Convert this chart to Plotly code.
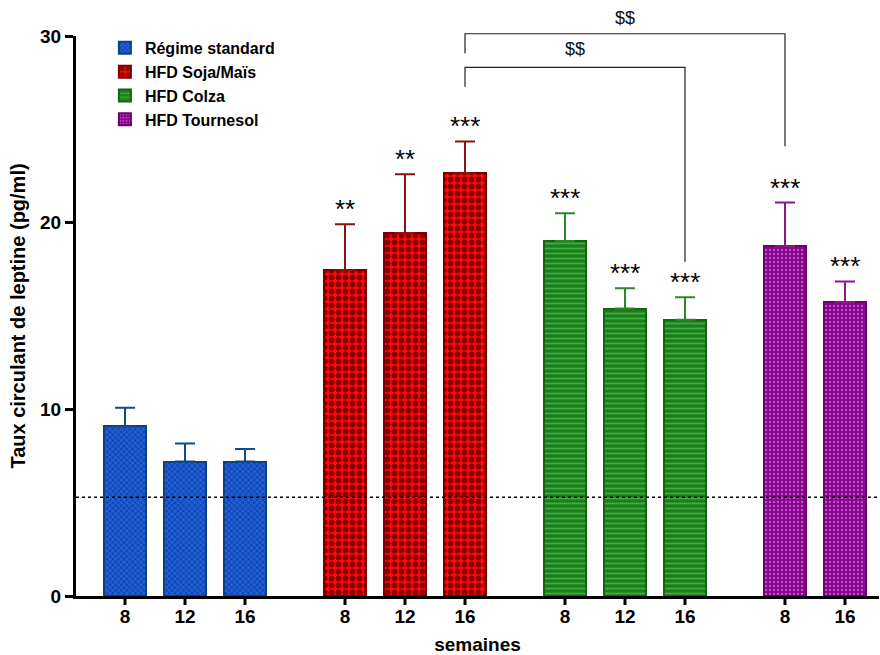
import plotly.graph_objects as go

# ---------------- data ----------------
groups = ["Régime standard", "HFD Soja/Maïs", "HFD Colza", "HFD Tournesol"]
weeks = [["8", "12", "16"], ["8", "12", "16"], ["8", "12", "16"], ["8", "16"]]
means = [[9.1, 7.2, 7.2], [17.45, 19.45, 22.65], [19.0, 15.4, 14.8], [18.75, 15.75]]
sem = [[0.98, 0.97, 0.67], [2.46, 3.15, 1.7], [1.5, 1.09, 1.21], [2.33, 1.1]]
signif = [["", "", ""], ["**", "**", "***"], ["***", "***", "***"], ["***", "***"]]
baseline = 5.29
# comparisons: (group, index) -> (group, index), label
comparisons = [((1, 2), (2, 2), "$$"), ((1, 2), (3, 0), "$$")]

# ---------------- styles ----------------
fill = ["#1f5fd8", "#ff0a0a", "#1b7d1b", "#830583"]
fg = ["#0b3a96", "#8a0000", "#3fae3f", "#c04ad6"]
shapes_p = ["x", ".", "-", "."]
psize = [4, 7, 5, 4]
psol = [0.35, 0.55, 0.35, 0.3]
edge = ["#0d3f85", "#7a0000", "#146414", "#6c006c"]
errc = ["#0f4a8a", "#8b1212", "#2a8a2a", "#8b168b"]

GAP = 2 / 3
YMAX = 30
FONT = "Liberation Sans, Arial"
PLOT_H = 655 - 36 - 59


def pos(g, i):
    return g * (3 + GAP) + i


fig = go.Figure()
tickvals, ticktext = [], []
for g, name in enumerate(groups):
    xs = [pos(g, i) for i in range(len(means[g]))]
    tickvals += xs
    ticktext += weeks[g]
    fig.add_trace(go.Bar(
        x=xs, y=means[g], name=name, legendgroup=name,
        width=0.7,
        marker=dict(color=fill[g],
                    line=dict(color=edge[g], width=2),
                    pattern=dict(shape=shapes_p[g], fgcolor=fg[g], bgcolor=fill[g],
                                 size=psize[g], solidity=psol[g], fillmode="replace")),
        error_y=dict(type="data", symmetric=False, array=sem[g],
                     arrayminus=[0] * len(sem[g]), color=errc[g],
                     thickness=2, width=10),
    ))
    for i, s in enumerate(signif[g]):
        if s:
            fig.add_annotation(x=xs[i], y=means[g][i] + sem[g][i], text=s,
                               showarrow=False, yanchor="middle", yshift=15,
                               font=dict(size=26, color="black", family=FONT))

# x tick marks (drawn as short lines below the axis at each tick value)
for tv in tickvals:
    fig.add_shape(type="line", xref="x", yref="paper", x0=tv, x1=tv,
                  y0=0, y1=-9 / PLOT_H, line=dict(color="black", width=3))

# dotted baseline
fig.add_shape(type="line", xref="paper", x0=0, x1=1, yref="y", y0=baseline, y1=baseline,
              line=dict(color="black", width=1.5, dash="dot"))

# significance brackets (drawn in paper y so they may exceed the axis top)
bracket_levels = [(28.32, 27.28, 17.9, 29.33), (30.12, 29.07, 24.1, 30.99)]
for (a, b, lab), (top, lbot, rbot, ylab) in zip(comparisons, bracket_levels):
    xa = pos(*a)
    xb = pos(*b)
    fig.add_shape(type="path", xref="x", yref="paper",
                  path=f"M {xa},{lbot / YMAX} L {xa},{top / YMAX} L {xb},{top / YMAX} L {xb},{rbot / YMAX}",
                  line=dict(color="#222222", width=1.2))
    fig.add_annotation(x=(xa + xb) / 2, y=ylab / YMAX, yref="paper", text=lab, showarrow=False,
                       yanchor="middle",
                       font=dict(size=18, color="#111111", family=FONT))

fig.update_layout(
    width=880, height=655,
    margin=dict(l=76, r=1, t=36, b=59, autoexpand=False),
    plot_bgcolor="white", paper_bgcolor="white",
    font=dict(family=FONT, color="black"),
    showlegend=True,
    legend=dict(x=0.036, y=1.009, xanchor="left", yanchor="top",
                font=dict(size=16, color="black", family=FONT, weight="bold"),
                tracegroupgap=0, bgcolor="rgba(0,0,0,0)", traceorder="normal"),
    bargap=0,
)
fig.update_xaxes(range=[-0.817, 12.567], tickvals=tickvals, ticktext=ticktext,
                 showline=True, linecolor="black", linewidth=3,
                 ticks="outside", ticklen=1, tickwidth=1, tickcolor="rgba(0,0,0,0)",
                 tickfont=dict(size=19, weight="bold"), showgrid=False, zeroline=False,
                 automargin=False,
                 title=dict(text="<b>semaines</b>", font=dict(size=19), standoff=14))
fig.update_yaxes(range=[0, YMAX], tickvals=[0, 10, 20, 30],
                 showline=True, linecolor="black", linewidth=3,
                 ticks="outside", ticklen=8, tickwidth=3, tickcolor="black",
                 tickfont=dict(size=19, weight="bold"), showgrid=False, zeroline=False,
                 automargin=False,
                 title=dict(text="<b>Taux circulant de leptine (pg/ml)</b>", font=dict(size=20), standoff=10))

fig.write_html("out.html", config={"displayModeBar": False},
               post_script="document.body.style.margin='0px';")
